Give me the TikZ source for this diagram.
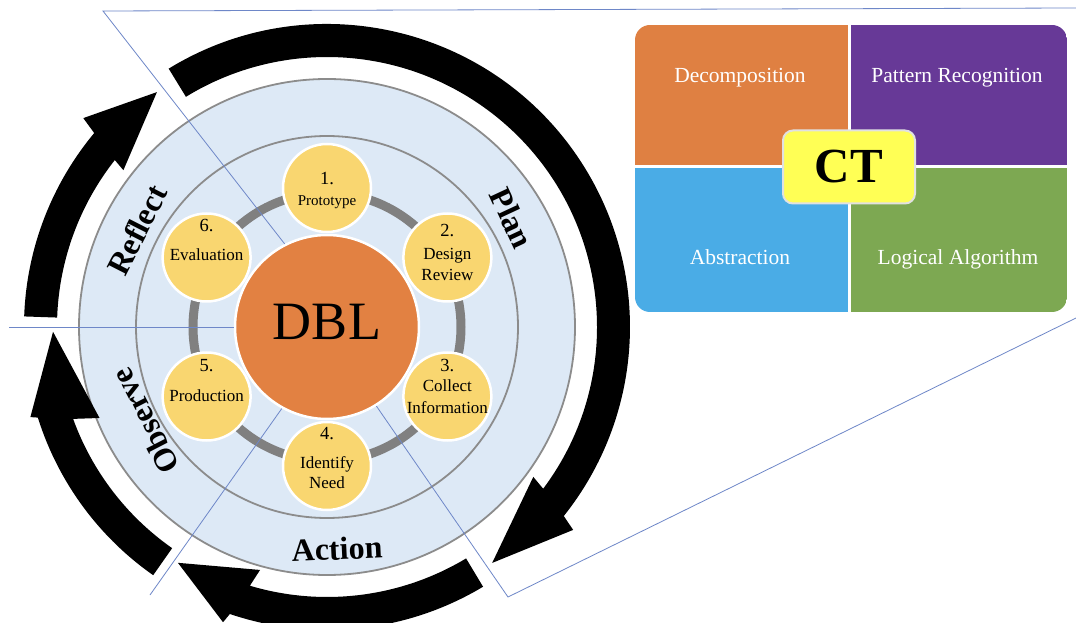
\documentclass[tikz,border=0pt]{standalone}
\usepackage{fontspec}
\setmainfont{Liberation Serif}
\definecolor{discblue}{RGB}{221,233,246}
\definecolor{ringgray}{RGB}{140,140,140}
\definecolor{thickgray}{RGB}{128,128,128}
\definecolor{stepfill}{RGB}{249,214,112}
\definecolor{dblorange}{RGB}{226,129,66}
\definecolor{lineblue}{RGB}{110,135,200}
\definecolor{ctorange}{RGB}{223,128,66}
\definecolor{ctpurple}{RGB}{103,57,151}
\definecolor{ctblue}{RGB}{74,172,230}
\definecolor{ctgreen}{RGB}{125,168,82}
\definecolor{ctyellow}{RGB}{255,255,85}
\definecolor{ctborder}{RGB}{225,225,225}
\tikzset{
  stepcirc/.style={circle, fill=stepfill, draw=white, line width=2.5pt, minimum size=88pt, inner sep=0pt},
  numtxt/.style={font=\fontsize{18.5}{20}\selectfont, anchor=base, inner sep=0pt},
  steptxt/.style={font=\fontsize{17}{19}\selectfont, anchor=base, inner sep=0pt},
  ringlbl/.style={font=\fontsize{32}{34}\selectfont\bfseries, inner sep=0pt},
  zoomline/.style={draw=lineblue, line width=0.8pt},
  ctlbl/.style={font=\fontsize{21.5}{24}\selectfont, text=white, anchor=base, inner sep=0pt},
}
% tail, band end out, band end in, outer wing angle, outer wing r, tip angle, tip r, inner wing angle, inner wing r
\newcommand{\cyclearrow}[9]{%
  \fill[black] (#1:303) arc[start angle=#1, end angle=#2, radius=303] -- (#4:#5) -- (#6:#7) -- (#8:#9) -- (#3:270) arc[start angle=#3, end angle=#1, radius=270] -- cycle;}
\begin{document}
\begin{tikzpicture}[x=1pt,y=1pt]
\fill[white] (-327,-296) rectangle (749,327);
\useasboundingbox (-327,-296) rectangle (749,327);

% discs and rings
\fill[discblue] (0,0) circle (248);
\draw[ringgray, line width=1.8pt] (0,0) circle (248);
\draw[ringgray, line width=1.8pt] (0,0) circle (191);
\draw[thickgray, line width=9pt] (0,0) circle (134);

% cycle arrows
\cyclearrow{121.5}{-38.6}{-36.8}{-39.5}{319}{-55}{288}{-36}{255}
\cyclearrow{-59}{-108.7}{-106.6}{-109.4}{313}{-122.3}{279}{-105.4}{252}
\cyclearrow{-125}{-162.6}{-160.1}{-163.1}{310}{-179}{274}{-158.2}{245}
\cyclearrow{178}{140.2}{141.8}{139.4}{321}{125.9}{290}{142.4}{257}

% ring labels
\node[ringlbl, rotate=-65] (plan) at (185,109) {Plan};
\node[ringlbl, rotate=63] (reflect) at (-190,97) {Reflect};
\node[ringlbl, rotate=117.3] (observe) at (-182,-94) {Observe};
\node[ringlbl, rotate=2.6] (action) at (10,-222) {Action};

% step circles
\node[stepcirc] (s1) at (90:139) {};
\node[stepcirc] (s2) at (30:139) {};
\node[stepcirc] (s3) at (-30:139) {};
\node[stepcirc] (s4) at (-90:139) {};
\node[stepcirc] (s5) at (-150:139) {};
\node[stepcirc] (s6) at (150:139) {};

\path (s1) ++(0,3) node[numtxt] (n1) {1.};
\path (s1) ++(0,-18) node[steptxt, font=\fontsize{15}{17}\selectfont] (t1) {Prototype};
\path (s2) ++(0,21) node[numtxt] (n2) {2.};
\path (s2) ++(0,-2) node[steptxt] (t2a) {Design};
\path (s2) ++(0,-23) node[steptxt] (t2b) {Review};
\path (s3) ++(0,25) node[numtxt] (n3) {3.};
\path (s3) ++(0,5) node[steptxt] (t3a) {Collect};
\path (s3) ++(0,-17) node[steptxt] (t3b) {Information};
\path (s4) ++(0,26) node[numtxt] (n4) {4.};
\path (s4) ++(0,-3) node[steptxt] (t4a) {Identify};
\path (s4) ++(0,-23) node[steptxt] (t4b) {Need};
\path (s5) ++(0,25) node[numtxt] (n5) {5.};
\path (s5) ++(0,-5) node[steptxt] (t5) {Production};
\path (s6) ++(0,26) node[numtxt] (n6) {6.};
\path (s6) ++(0,-3) node[steptxt] (t6) {Evaluation};

% DBL centre
\node[circle, fill=dblorange, draw=white, line width=2.5pt, minimum size=184pt, inner sep=0pt] (dbl) at (0,0) {};
\node[anchor=base, inner sep=0pt, font=\fontsize{54}{60}\selectfont] (dbltxt) at (0,-13) {DBL};

% zoom lines
\coordinate (h1) at (-318,0);
\coordinate (u1) at (-224,316);
\coordinate (u2) at (749,319);
\coordinate (d1) at (-177,-268);
\coordinate (r1) at (181,-270);
\coordinate (r2) at (749,9);
\draw[zoomline] (dbl.180) -- (h1);
\draw[zoomline] (dbl.117) -- (u1) -- (u2);
\draw[zoomline] (dbl.-119) -- (d1);
\draw[zoomline] (dbl.-58) -- (r1) -- (r2);

% CT panel
\begin{scope}
  \clip[rounded corners=15pt] (308,15) rectangle (740,302);
  \fill[ctorange] (308,160) rectangle (522,302);
  \fill[ctpurple] (522,160) rectangle (740,302);
  \fill[ctblue] (308,15) rectangle (522,160);
  \fill[ctgreen] (522,15) rectangle (740,160);
  \draw[white, line width=3pt] (522,15) -- (522,302);
  \draw[white, line width=3pt] (308,160) -- (740,160);
\end{scope}
\node[ctlbl] (dec) at (413,244) {Decomposition};
\node[ctlbl] (pat) at (630,244) {Pattern Recognition};
\node[ctlbl] (abs) at (413,62) {Abstraction};
\node[ctlbl] (log) at (631,62) {Logical Algorithm};
\node[draw=ctborder, line width=2pt, fill=ctyellow, rounded corners=10pt, minimum width=132pt, minimum height=73pt, inner sep=0pt, font=\fontsize{49}{50}\selectfont\bfseries] (ct) at (522,160) {CT};
\end{tikzpicture}
\end{document}
